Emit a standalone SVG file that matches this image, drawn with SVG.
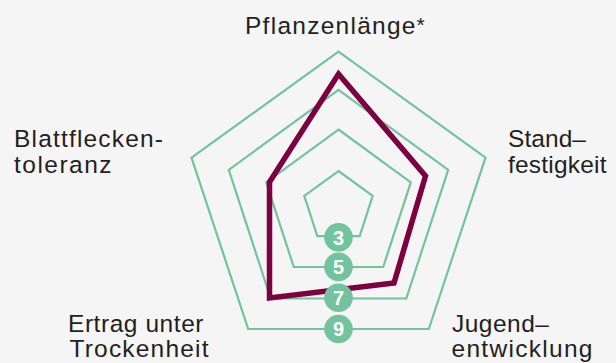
<svg xmlns="http://www.w3.org/2000/svg" width="616" height="363" viewBox="0 0 616 363">
<style>
.grid{fill:none;stroke:#72c39e;stroke-width:2.2;stroke-linejoin:miter}
.data{fill:none;stroke:#7d0040;stroke-width:5.5;stroke-linejoin:miter}
.lbl{font-family:"Liberation Sans",Arial,sans-serif;font-size:24.5px;fill:#231f20}
.badge{fill:#72c39e}
.num{font-family:"Liberation Sans",Arial,sans-serif;font-size:20px;font-weight:bold;fill:#ffffff;text-anchor:middle}
</style>
<rect width="616" height="363" fill="#f5f5f5"/>
<g id="grid">
<polygon id="ring9" class="grid" points="338.5,51.7 485.5,157.6 428.8,329 248.2,329 191.5,157.6"/>
<polygon id="ring7" class="grid" points="338.5,89.9 448.2,169.8 406.3,298.5 270.7,298.5 228.8,169.8"/>
<polygon id="ring5" class="grid" points="338.5,129.5 410.8,182.3 383.2,267 293.8,267 266.2,182.3"/>
<polygon id="ring3" class="grid" points="338.5,171 372.7,195.9 359.7,236.1 317.3,236.1 304.3,195.9"/>
</g>
<g id="connectors">
<polygon id="series" class="data" points="338.5,74 425.5,176 394,283 269.5,298 269.5,182"/>
</g>
<g id="scale">
<g id="s3"><circle class="badge" cx="338.5" cy="237.3" r="14.3"/><text class="num" x="338.5" y="244.5">3</text></g>
<g id="s5"><circle class="badge" cx="338.5" cy="266.9" r="14.3"/><text class="num" x="338.5" y="274.1">5</text></g>
<g id="s7"><circle class="badge" cx="338.5" cy="297.7" r="14.3"/><text class="num" x="338.5" y="304.9">7</text></g>
<g id="s9"><circle class="badge" cx="338.5" cy="329" r="14.3"/><text class="num" x="338.5" y="336.2">9</text></g>
</g>
<g id="axis-top"><text class="lbl" x="245" y="34.3" textLength="170.5" lengthAdjust="spacing">Pflanzenlänge</text><text class="lbl" x="416.5" y="32" style="font-size:21px">*</text></g>
<g id="axis-ul"><text class="lbl" x="14" y="147.3" textLength="149" lengthAdjust="spacing">Blattflecken-</text><text class="lbl" x="14" y="173.3" textLength="97.5" lengthAdjust="spacing">toleranz</text></g>
<g id="axis-ur"><text class="lbl" x="508" y="147" textLength="78" lengthAdjust="spacing">Stand–</text><text class="lbl" x="508" y="173" textLength="98.5" lengthAdjust="spacing">festigkeit</text></g>
<g id="axis-lr"><text class="lbl" x="452" y="331.5" textLength="97" lengthAdjust="spacing">Jugend–</text><text class="lbl" x="451.5" y="357" textLength="141" lengthAdjust="spacing">entwicklung</text></g>
<g id="axis-ll"><text class="lbl" x="68" y="331.7" textLength="135.5" lengthAdjust="spacing">Ertrag unter</text><text class="lbl" x="69.5" y="356.7" textLength="139" lengthAdjust="spacing">Trockenheit</text></g>
</svg>
